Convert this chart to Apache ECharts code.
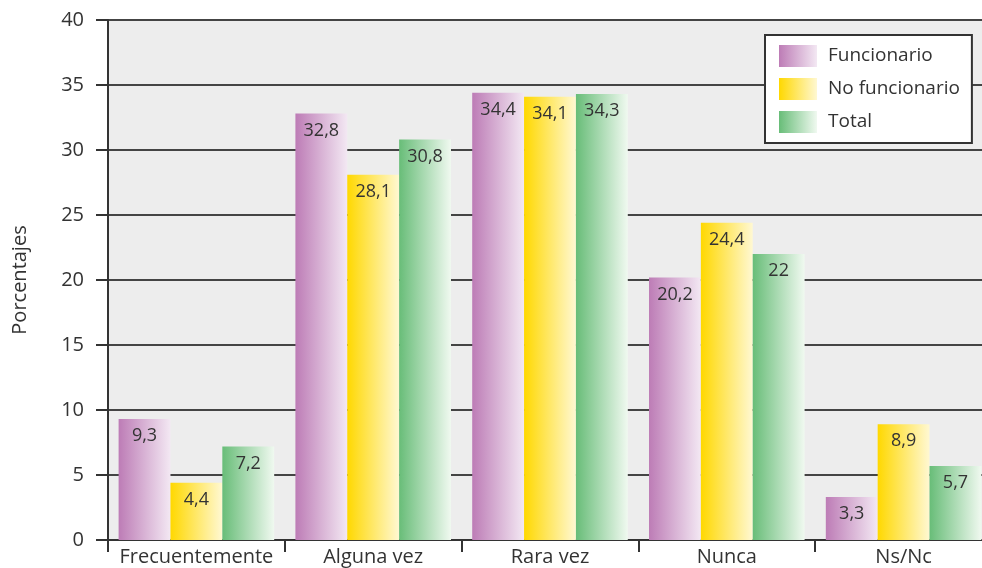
<!DOCTYPE html>
<html>
<head>
<meta charset="utf-8">
<script src="https://cdn.jsdelivr.net/npm/echarts@6/dist/echarts.min.js"></script>
<style>
html,body{margin:0;padding:0;background:#fff;}
#chart{width:982px;height:568px;}
</style>
</head>
<body>
<div id="chart"></div>
<script>
const categories = ['Frecuentemente', 'Alguna vez', 'Rara vez', 'Nunca', 'Ns/Nc'];
const seriesNames = ['Funcionario', 'No funcionario', 'Total'];
const funcionario = [9.3, 32.8, 34.4, 20.2, 3.3];
const noFuncionario = [4.4, 28.1, 34.1, 24.4, 8.9];
const total = [7.2, 30.8, 34.3, 22, 5.7];
const yTicks = [0, 5, 10, 15, 20, 25, 30, 35, 40];

const FONT = '"Open Sans"';
function grad(c1, c2) {
  return new echarts.graphic.LinearGradient(0, 0, 1, 0, [
    { offset: 0, color: c1 }, { offset: 1, color: c2 }
  ]);
}
const colors = [
  grad('#bd7cb6', '#f3e8f3'),
  grad('#ffd800', '#fff8d2'),
  grad('#68bd78', '#f0f9f0')
];
const values = [funcionario, noFuncionario, total];

const chart = echarts.init(document.getElementById('chart'), null, { renderer: 'canvas' });
chart.setOption({
  animation: false,
  textStyle: { fontFamily: FONT },
  grid: {
    left: 108, top: 20, bottom: 28, right: -10,
    outerBoundsMode: 'none',
    containLabel: false,
    show: true, backgroundColor: '#ededed', borderWidth: 0
  },
  legend: {
    orient: 'vertical',
    left: 765, top: 35,
    backgroundColor: '#fff',
    borderColor: '#333', borderWidth: 2, borderRadius: 0,
    padding: [10, 12, 10, 14],
    itemWidth: 38, itemHeight: 22, itemGap: 11,
    icon: 'rect',
    textStyle: { fontSize: 19, color: '#333', fontFamily: FONT, padding: [0, 0, 0, 6] },
    data: seriesNames
  },
  xAxis: {
    type: 'category',
    data: categories,
    axisLine: { lineStyle: { color: '#333', width: 2 } },
    axisTick: { show: true, interval: 0, length: 12, lineStyle: { color: '#333', width: 2 } },
    axisLabel: { interval: 0, hideOverlap: false, fontSize: 20, color: '#333', margin: 7, fontFamily: FONT },
    splitLine: { show: false }
  },
  yAxis: {
    type: 'value',
    min: 0, max: 40, interval: 5,
    name: 'Porcentajes',
    nameLocation: 'middle',
    nameGap: 78,
    nameTextStyle: { fontSize: 20, color: '#333', fontFamily: FONT },
    axisLine: { show: true, lineStyle: { color: '#333', width: 2 } },
    axisTick: { show: true, length: 12, lineStyle: { color: '#333', width: 2 } },
    axisLabel: {
      fontSize: 20, color: '#333', margin: 24, fontFamily: FONT,
      formatter: v => yTicks.includes(v) ? String(v) : ''
    },
    splitLine: { show: true, lineStyle: { color: '#444', width: 2 } }
  },
  series: seriesNames.map((name, i) => ({
    name,
    type: 'bar',
    data: values[i],
    barGap: '0%',
    barCategoryGap: '12%',
    itemStyle: { color: colors[i] },
    label: {
      show: true,
      position: 'insideTop',
      distance: 8,
      fontSize: 18,
      color: '#333',
      fontFamily: FONT,
      formatter: p => String(p.value).replace('.', ',')
    }
  }))
});
</script>
</body>
</html>
